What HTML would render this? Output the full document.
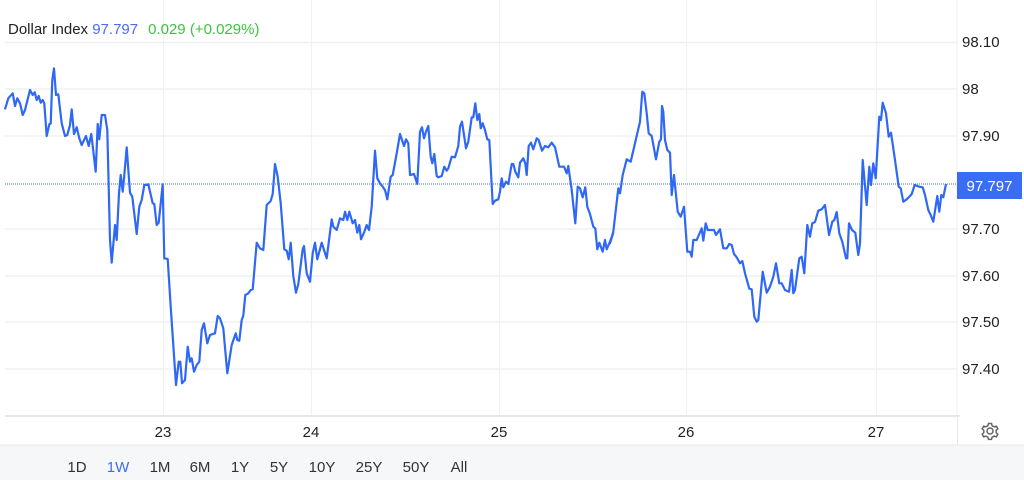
<!DOCTYPE html>
<html><head><meta charset="utf-8"><style>
html,body{margin:0;padding:0;background:#fff;width:1024px;height:480px;overflow:hidden;font-family:"Liberation Sans",Arial,sans-serif}
</style></head><body>
<svg id="s" width="1024" height="480" xmlns="http://www.w3.org/2000/svg" style="position:absolute;left:0;top:0">
<rect x="0" y="445" width="1024" height="35" fill="#f6f7f9"/>
<line x1="0" y1="445" x2="1024" y2="445" stroke="#e8eaed"/>
<g stroke="#eceef0" stroke-width="1.2">
<line x1="5" y1="42.5" x2="957" y2="42.5"/>
<line x1="5" y1="89" x2="957" y2="89"/>
<line x1="5" y1="136" x2="957" y2="136"/>
<line x1="5" y1="229" x2="957" y2="229"/>
<line x1="5" y1="276" x2="957" y2="276"/>
<line x1="5" y1="322" x2="957" y2="322"/>
<line x1="5" y1="369" x2="957" y2="369"/>
</g>
<g stroke="#eef2f3" stroke-width="1.2">
<line x1="163.5" y1="0" x2="163.5" y2="416"/>
<line x1="311.5" y1="0" x2="311.5" y2="416"/>
<line x1="499.5" y1="0" x2="499.5" y2="416"/>
<line x1="686.5" y1="0" x2="686.5" y2="416"/>
<line x1="876.5" y1="0" x2="876.5" y2="416"/>
<line x1="957" y1="0" x2="957" y2="416"/>
</g>
<line x1="5" y1="416" x2="960" y2="416" stroke="#e6e8eb" stroke-width="2"/>
<line x1="957.5" y1="416" x2="957.5" y2="445" stroke="#e6e8eb"/>
<line x1="5" y1="184" x2="957" y2="184" stroke="#3a6cf4" stroke-width="1" stroke-dasharray="1,1"/>
<polyline id="pl" fill="none" stroke="#2f68f5" stroke-width="2.2" stroke-linejoin="round"/>
<rect x="957" y="172" width="65" height="27" fill="#3b6cf6"/>
<text x="989.5" y="191" fill="#fff" font-size="15" text-anchor="middle">97.797</text>
<g font-size="15" fill="#222" text-anchor="start">
<text x="962" y="47">98.10</text>
<text x="962" y="94">98</text>
<text x="962" y="141">97.90</text>
<text x="962" y="234">97.70</text>
<text x="962" y="281">97.60</text>
<text x="962" y="327">97.50</text>
<text x="962" y="374">97.40</text>
</g>
<g font-size="15" fill="#222" text-anchor="middle">
<text x="163" y="437">23</text>
<text x="311" y="437">24</text>
<text x="499" y="437">25</text>
<text x="686" y="437">26</text>
<text x="876" y="437">27</text>
</g>
<g font-size="15" fill="#333" text-anchor="middle">
<text x="77" y="472">1D</text>
<text x="118" y="472" fill="#3b6cf6">1W</text>
<text x="160" y="472">1M</text>
<text x="200" y="472">6M</text>
<text x="240" y="472">1Y</text>
<text x="279" y="472">5Y</text>
<text x="322" y="472">10Y</text>
<text x="369" y="472">25Y</text>
<text x="416" y="472">50Y</text>
<text x="459" y="472">All</text>
</g>
<g transform="translate(990,431)" fill="none" stroke="#666" stroke-width="1.5">
<circle r="3"/>
<path d="M-1.5,-7.5h3l0.6,2.2 2,1.1 2.2,-0.7 1.5,2.6 -1.6,1.6v2.3l1.6,1.6 -1.5,2.6 -2.2,-0.7 -2,1.1 -0.6,2.2h-3l-0.6,-2.2 -2,-1.1 -2.2,0.7 -1.5,-2.6 1.6,-1.6v-2.3l-1.6,-1.6 1.5,-2.6 2.2,0.7 2,-1.1z"/>
</g>
<text x="8" y="34" font-size="15" fill="#222">Dollar Index <tspan fill="#4a6cf7">97.797</tspan><tspan fill="#3fc23f" dx="10">0.029 (+0.029%)</tspan></text>
</svg>
<script>
var a=[[0,60,[15,148,25,115,38,100,45,138,52,115,60,130,68,165,75,150,90,90,98,105,104,97,110,120,116,108,122,128,128,120,133,130,140,228,148,193,152,190,157,60,162,25,168,105,175,103,185,190,195,228,202,225,210,195,215,148,222,222,230,202,238,235,245,255,258,228,266,258,274,222,287,335,293,192,298,238,305,165,315,165,322,210,330,540,335,608,345,495,350,540,357,400,362,345,368,395,373,345,380,262,390,398,397,410,410,522,418,440,425,420,433,375,445,373,458,430,463,432,470,495,476,488,488,373,493,595,503,597,512,740,528,975,536,905,541,905,546,970,555,960,563,860,570,905,575,895,582,935,590,915,598,905,605,810,612,790,622,850,630,825,645,820,653,768,660,775,670,805,682,940,695,855,707,820,712,840,718,842,725,780,730,767,736,705,745,700,752,690,758,688,770,548,780,565,790,570,800,435,812,423,818,402,825,312,833,350,842,430,853,568,860,572,866,598,872,548,880,648,888,698,895,672,908,568,912,558,920,640,930,665,938,580,945,548]],
[300,60,[52,598,65,548,80,595,95,478,100,500,110,510,120,475,130,480,135,455,142,480,148,455,158,490,165,480,172,518,178,495,183,538,192,518,200,495,207,510,215,440,225,272,232,355,240,370,248,380,255,390,262,418,272,350,278,345,290,280,300,222,312,258,318,238,325,250,330,345,342,342,352,372,360,215,366,202,372,235,378,215,385,198,392,290,397,310,403,282,410,348,415,352,425,348,433,320,440,332,445,325,455,290,465,292,475,258,480,200,486,185,498,265,505,245,515,172,520,172,526,130,532,180,538,162,542,205,548,190,555,210,562,238,568,240,578,432,585,422,595,418,600,395,605,355,610,382,618,365,625,372,628,355,635,312,640,312,646,335,655,352,660,308,670,295,676,310,680,345,686,258,693,248,700,268,710,235,716,240,726,272,735,258,745,262,755,248,765,262,778,320,792,320,800,340,805,318,815,390,826,490,833,380,840,385,848,412,856,382,862,440,870,462,880,500,886,505,892,568,898,548,908,575,915,540,920,568,930,545,940,518]],
[610,60,[0,550,10,515,25,385,30,400,38,345,50,298,62,305,75,250,90,185,97,95,103,100,110,160,116,220,125,228,138,298,148,245,153,238,156,138,160,155,165,240,172,270,180,278,185,405,192,345,203,455,212,470,222,440,232,575,240,575,245,590,250,540,260,540,268,522,275,505,280,542,287,490,293,510,303,510,312,510,318,525,330,508,340,565,350,565,358,552,365,555,372,582,380,592,390,610,397,603,405,640,418,686,425,688,433,770,440,785,445,780,458,635,470,698,480,680,490,650,498,610,508,670,515,670,525,690,537,695,545,630,550,700,555,690,568,595,575,590,583,640,592,495,600,530,607,490,615,486,625,452,635,448,645,435,657,525,667,485,673,480,680,456,688,520,697,545,708,595,712,595,717,490,726,510,736,518,745,585,750,550,758,300,770,435,778,320,783,375,790,310,797,355,808,170,813,180,818,128,828,160,836,230,843,218,855,300,866,380,872,385,880,425,890,418,900,408,905,402,914,375,928,380,938,382,945,405,955,450,962,465,970,485,982,408,988,455,994,405,1000,412,1008,372]]];
var p=[];a.forEach(function(s){var d=s[2];for(var i=0;i<d.length;i+=2){p.push((s[0]+d[i]/3).toFixed(1)+','+(s[1]+d[i+1]/3).toFixed(1));}});
document.getElementById('pl').setAttribute('points',p.join(' '));
</script>
</body></html>
